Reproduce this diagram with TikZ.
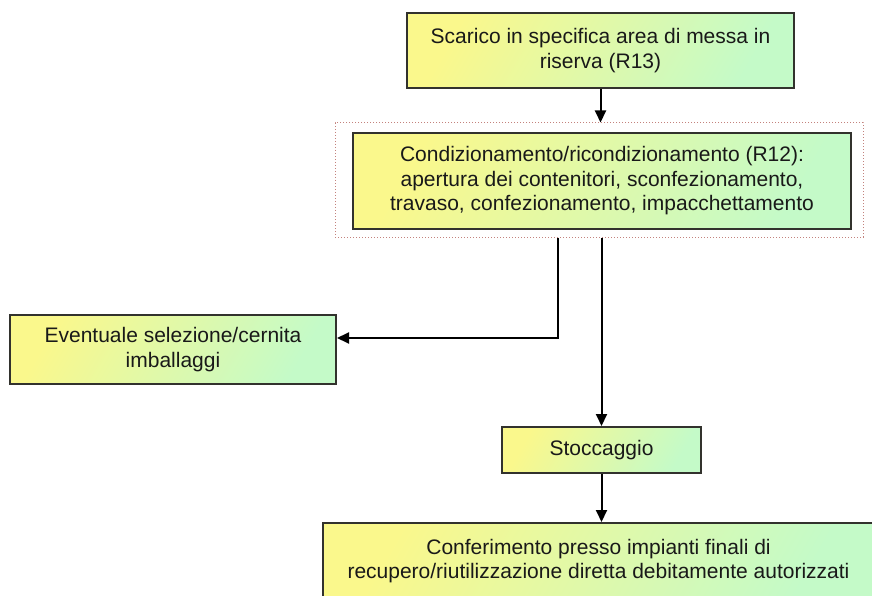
\documentclass[tikz,border=0pt]{standalone}
\usepackage{fontspec}
\setmainfont{Liberation Sans}
\usetikzlibrary{arrows.meta}
\definecolor{boxyellow}{RGB}{250,248,140}
\definecolor{boxgreen}{RGB}{196,250,200}
\definecolor{boxline}{RGB}{50,50,45}
\definecolor{framered}{RGB}{195,130,125}
\definecolor{txt}{RGB}{25,25,25}
\begin{document}
\begin{tikzpicture}[x=1pt,y=-1pt,
  box/.style={draw=boxline, line width=2pt, left color=boxyellow, right color=boxgreen,
    shading angle=60, inner sep=0pt, align=center,
    font=\fontsize{21}{24.5}\selectfont, text=txt},
  conn/.style={draw=black, line width=2pt},
  arr/.style={conn, -{Triangle[width=11pt,length=12pt]}}]
\useasboundingbox (0,0) rectangle (872,596);
\clip (0,0) rectangle (872,596);
\fill[white] (0,0) rectangle (872,596);

\node[box, minimum width=387pt, minimum height=75pt] (r13) at (600.5,50.5)
  {Scarico in specifica area di messa in\\riserva (R13)};
\node[draw=framered, dotted, line width=1pt, minimum width=528pt, minimum height=114pt, inner sep=0pt] (frame) at (599,180) {};
\node[box, minimum width=498pt, minimum height=96pt] (r12) at (602,181)
  {Condizionamento/ricondizionamento (R12):\\apertura dei contenitori, sconfezionamento,\\travaso, confezionamento, impacchettamento};
\node[box, minimum width=326pt, minimum height=69pt] (sel) at (173,349.5)
  {Eventuale selezione/cernita\\imballaggi};
\node[box, minimum width=199pt, minimum height=46pt] (sto) at (601.5,450) {Stoccaggio};
\node[box, minimum width=551pt, minimum height=76pt] (fin) at (598.5,561)
  {Conferimento presso impianti finali di\\recupero/riutilizzazione diretta debitamente autorizzati};

\draw[arr] (r13.south) -- (r13.south |- frame.north);
\draw[arr] ([xshift=-41pt]frame.south) |- ([yshift=11.5pt]sel.east);
\draw[arr] (frame.south -| sto.north) -- (sto.north);
\draw[arr] (sto.south) -- (sto.south |- fin.north);
\end{tikzpicture}
\end{document}
